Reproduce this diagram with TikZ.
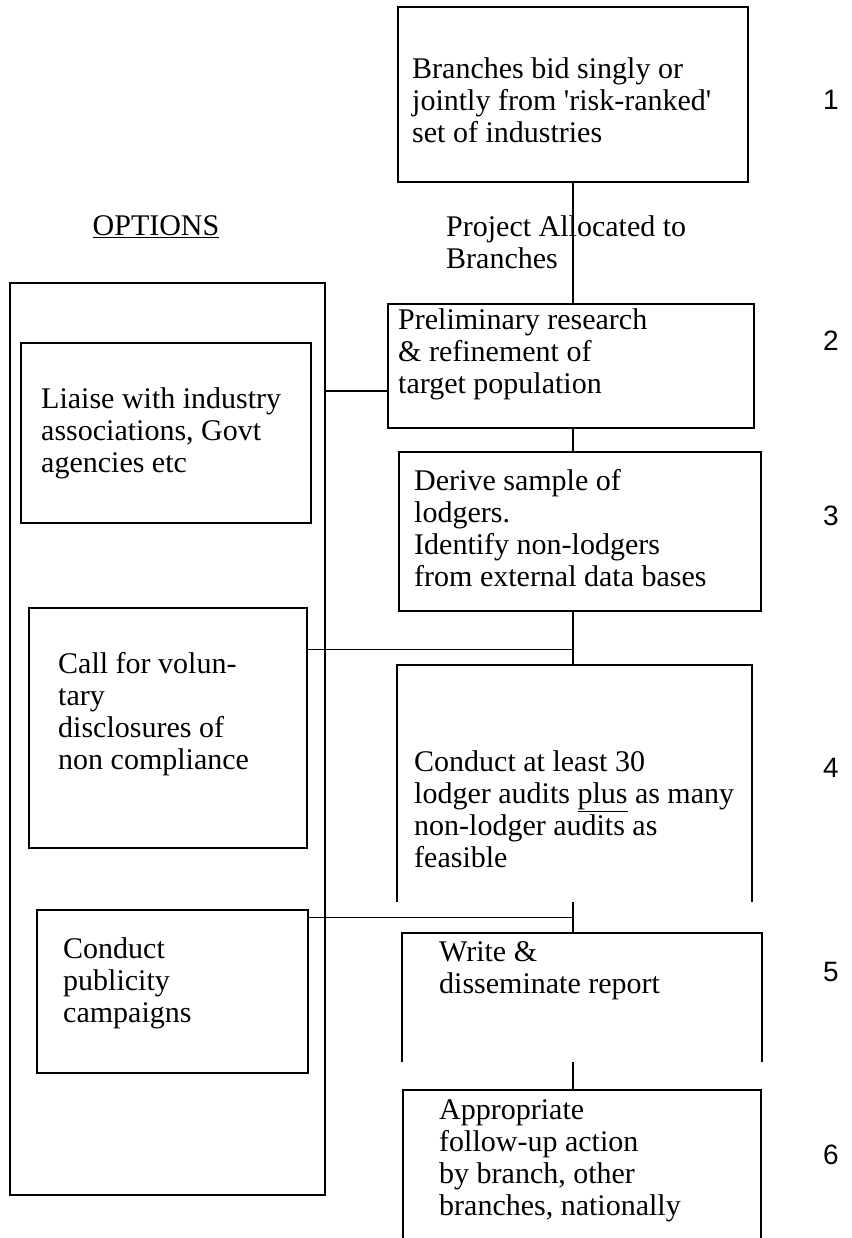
\documentclass[tikz,border=0pt]{standalone}
\usepackage{fontspec}
\setmainfont{Liberation Serif}
\newfontfamily\numfont{Liberation Sans}

\tikzset{
  stage/.style={rectangle, draw, line width=1.5pt, inner sep=0pt},
  openstage/.style={rectangle, inner sep=0pt},
  edge line/.style={line width=1.5pt},
  body/.style={anchor=west, align=left, inner sep=0pt, font=\fontsize{30}{32}\selectfont},
  stepno/.style={inner sep=0pt, font=\numfont\fontsize{28}{30}\selectfont},
  link/.style={line width=1.5pt},
  thinlink/.style={line width=1pt},
}

\begin{document}
\begin{tikzpicture}[x=1pt, y=-1pt]
  \useasboundingbox (0,0) rectangle (851,1238);

  % main sequence of stages
  \node[stage, minimum width=350, minimum height=175] (b1) at (573,94.5) {};
  \node[stage, minimum width=366, minimum height=124] (b2) at (571,366) {};
  \node[stage, minimum width=362, minimum height=159] (b3) at (580,531.5) {};
  \node[openstage, minimum width=355, minimum height=237] (b4) at (574.5,783.5) {};
  \node[openstage, minimum width=360, minimum height=129] (b5) at (582,997.5) {};
  \node[openstage, minimum width=358, minimum height=148] (b6) at (582,1164) {};
  \draw[edge line] (b4.south west) -- (b4.north west) -- (b4.north east) -- (b4.south east);
  \draw[edge line] (b5.south west) -- (b5.north west) -- (b5.north east) -- (b5.south east);
  \draw[edge line] (b6.south west) -- (b6.north west) -- (b6.north east) -- (b6.south east);

  \node[body] (t1) at (412,100) {Branches bid singly or\\jointly from \textquotesingle risk-ranked\textquotesingle\\set of industries};
  \node[body] (t2) at (398,354) {Preliminary research\\\& refinement of\\target population};
  \node[body] (t3) at (414,528) {Derive sample of\\lodgers.\\Identify non-lodgers\\from external data bases};
  \node[body] (t4) at (414,809) {Conduct at least 30\\lodger audits \underline{plus} as many\\non-lodger audits as\\feasible};
  \node[body] (t5) at (439,971) {Write \&\\disseminate report};
  \node[body] (t6) at (439,1161) {Appropriate\\follow-up action\\by branch, other\\branches, nationally};

  % step numbers
  \node[stepno] (n1) at (831,100) {1};
  \node[stepno] (n2) at (831,341) {2};
  \node[stepno] (n3) at (831,516) {3};
  \node[stepno] (n4) at (831,768) {4};
  \node[stepno] (n5) at (831,972) {5};
  \node[stepno] (n6) at (831,1155) {6};

  % options column
  \node[body, anchor=center] (opthead) at (156,227) {\underline{OPTIONS}};
  \node[stage, minimum width=315, minimum height=912] (opts) at (167.5,739) {};
  \node[stage, minimum width=290, minimum height=180] (liaise) at (166,433) {};
  \node[stage, minimum width=278, minimum height=240] (call) at (168,728) {};
  \node[stage, minimum width=271, minimum height=163] (publ) at (172.5,991.5) {};
  \node[body] (liaisetxt) at (41,433) {Liaise with industry\\associations, Govt\\agencies etc};
  \node[body] (calltxt) at (58,714) {Call for volun-\\tary\\disclosures of\\non compliance};
  \node[body] (publtxt) at (63,983) {Conduct\\publicity\\campaigns};

  % connectors
  \coordinate (spine) at (573,0);
  \node[body, anchor=north west] (alloc) at (446,215) {Project Allocated to\\Branches};
  \draw[link] (b1.south -| spine) -- (b2.north -| spine);
  \draw[link] (b2.south -| spine) -- (b3.north -| spine);
  \draw[link] (b3.south -| spine) -- (b4.north -| spine);
  \draw[link] (b4.south -| spine) -- (b5.north -| spine);
  \draw[link] (b5.south -| spine) -- (b6.north -| spine);
  \draw[link] ([yshift=-25pt]b2.west) -- ([yshift=-25pt]b2.west -| opts.east);
  \coordinate (j3) at (573,649);
  \coordinate (j4) at (573,917);
  \draw[thinlink] (call.east |- j3) -- (j3);
  \draw[thinlink] (publ.east |- j4) -- (j4);
\end{tikzpicture}
\end{document}
